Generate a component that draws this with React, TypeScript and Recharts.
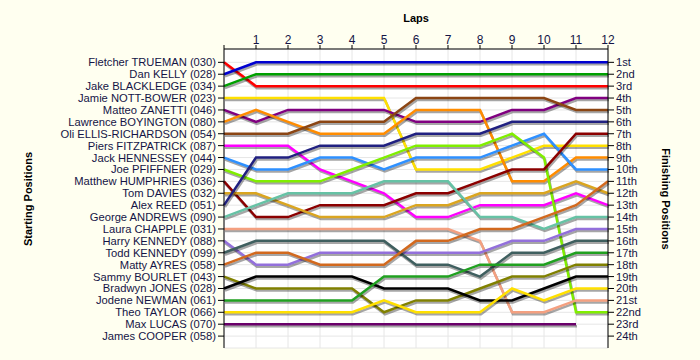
import { LineChart, Line, XAxis, YAxis, CartesianGrid } from 'recharts';

const LAPS = [0, 1, 2, 3, 4, 5, 6, 7, 8, 9, 10, 11, 12];

const DRIVERS = [
  'Fletcher TRUEMAN (030)',
  'Dan KELLY (028)',
  'Jake BLACKLEDGE (034)',
  'Jamie NOTT-BOWER (023)',
  'Matteo ZANETTI (046)',
  'Lawrence BOYINGTON (080)',
  'Oli ELLIS-RICHARDSON (054)',
  'Piers FITZPATRICK (087)',
  'Jack HENNESSEY (044)',
  'Joe PFIFFNER (029)',
  'Matthew HUMPHRIES (036)',
  'Tom DAVIES (032)',
  'Alex REED (051)',
  'George ANDREWS (090)',
  'Laura CHAPPLE (031)',
  'Harry KENNEDY (088)',
  'Todd KENNEDY (099)',
  'Matty AYRES (058)',
  'Sammy BOURLET (043)',
  'Bradwyn JONES (028)',
  'Jodene NEWMAN (061)',
  'Theo TAYLOR (066)',
  'Max LUCAS (070)',
  'James COOPER (058)',
];

const FINISH_LABELS = [
  '1st', '2nd', '3rd', '4th', '5th', '6th', '7th', '8th', '9th', '10th', '11th', '12th',
  '13th', '14th', '15th', '16th', '17th', '18th', '19th', '20th', '21st', '22nd', '23rd', '24th',
];

const COLORS = [
  '#ff0000', '#0000d0', '#00a000', '#ffe000', '#800080', '#ff8c00',
  '#8b4513', '#ff00ff', '#2e90ff', '#80ee00', '#8b0000', '#daa520',
  '#202080', '#66c2a5', '#f4a080', '#9370db', '#3f5f5f', '#d2691e',
  '#808000', '#000000', '#20a020', '#ffe000', '#6a006a', '#000000',
];

// position of each driver at the end of each lap (lap 0 = grid)
const POSITIONS: (number | null)[][] = [
  [1, 3, 3, 3, 3, 3, 3, 3, 3, 3, 3, 3, 3],
  [2, 1, 1, 1, 1, 1, 1, 1, 1, 1, 1, 1, 1],
  [3, 2, 2, 2, 2, 2, 2, 2, 2, 2, 2, 2, 2],
  [4, 4, 4, 4, 4, 4, 10, 10, 10, 9, 8, 8, 8],
  [5, 6, 5, 5, 5, 5, 6, 6, 6, 5, 5, 4, 4],
  [6, 5, 6, 7, 7, 7, 5, 5, 5, 11, 11, 9, 9],
  [7, 7, 7, 6, 6, 6, 4, 4, 4, 4, 4, 5, 5],
  [8, 8, 8, 10, 11, 12, 14, 14, 13, 13, 13, 12, 13],
  [9, 10, 10, 9, 9, 10, 9, 9, 9, 8, 7, 10, 10],
  [10, 11, 11, 11, 10, 9, 8, 8, 8, 7, 9, 22, 22],
  [11, 14, 14, 13, 13, 13, 12, 12, 11, 10, 10, 7, 7],
  [12, 12, 13, 14, 14, 14, 13, 13, 12, 12, 12, 11, 12],
  [13, 9, 9, 8, 8, 8, 7, 7, 7, 6, 6, 6, 6],
  [14, 13, 12, 12, 12, 11, 11, 11, 14, 14, 15, 14, 14],
  [15, 15, 15, 15, 15, 15, 15, 15, 16, 22, 22, 21, 21],
  [16, 18, 18, 17, 17, 17, 17, 17, 17, 16, 16, 15, 15],
  [17, 16, 16, 16, 16, 16, 18, 18, 19, 17, 17, 16, 16],
  [18, 17, 17, 18, 18, 18, 16, 16, 15, 15, 14, 13, 11],
  [19, 20, 20, 20, 20, 22, 21, 21, 20, 19, 19, 18, 18],
  [20, 19, 19, 19, 19, 20, 20, 20, 21, 21, 20, 19, 19],
  [21, 21, 21, 21, 21, 19, 19, 19, 18, 18, 18, 17, 17],
  [22, 22, 22, 22, 22, 21, 22, 22, 22, 20, 21, 20, 20],
  [23, 23, 23, 23, 23, 23, 23, 23, 23, 23, 23, 23, null],
  [],
];

const POS_TICKS = DRIVERS.map((_, i) => i + 1);

const data = LAPS.map((lap, i) => {
  const row: Record<string, number | null> = { lap };
  POSITIONS.forEach((p, d) => {
    row['d' + d] = p[i] ?? null;
  });
  return row;
});

const FONT = '"Liberation Sans", Arial, sans-serif';
const TEXT = '#141446';

export default function App() {
  return (
    <div style={{ position: 'absolute', left: 0, top: 0, width: 700, height: 360, background: '#fffff0' }}>
      <style>{`.lap-line .recharts-line-curve { filter: drop-shadow(1px 2px 0 rgba(0,0,0,0.35)); }`}</style>
      <LineChart width={700} height={360} data={data} margin={{ top: 0, right: 0, bottom: 12, left: 0 }}>
        <CartesianGrid yAxisId="left" fill="#ffffff" stroke="#e6e6e6" />
        <XAxis
          dataKey="lap"
          type="number"
          orientation="top"
          domain={[0, 12]}
          ticks={LAPS}
          tickFormatter={(v) => (v === 0 ? '' : String(v))}
          height={49}
          tickSize={4}
          tickMargin={1}
          stroke="#000"
          tick={{ fill: TEXT, fontSize: 12, fontFamily: FONT }}
          label={() => (
            <text x={416} y={22} textAnchor="middle" fontFamily={FONT} fontSize={11} fontWeight="bold" fill="#000">
              Laps
            </text>
          )}
        />
        <YAxis
          yAxisId="left"
          type="number"
          reversed
          domain={[-0.12, 25]}
          allowDataOverflow
          ticks={POS_TICKS}
          interval={0}
          tickFormatter={(v) => DRIVERS[v - 1] ?? ''}
          width={224}
          tickSize={6}
          tickMargin={2}
          stroke="#000"
          tick={{ fill: TEXT, fontSize: 11.2, fontFamily: FONT }}
          label={() => (
            <text
              x={28}
              y={199}
              transform="rotate(-90 28 199)"
              textAnchor="middle"
              dominantBaseline="central"
              fontFamily={FONT}
              fontSize={11}
              fontWeight="bold"
              fill="#000"
            >
              Starting Positions
            </text>
          )}
        />
        <YAxis
          yAxisId="right"
          orientation="right"
          type="number"
          reversed
          domain={[-0.12, 25]}
          allowDataOverflow
          ticks={POS_TICKS}
          interval={0}
          tickFormatter={(v) => FINISH_LABELS[v - 1] ?? ''}
          width={92}
          tickSize={6}
          tickMargin={2}
          stroke="#000"
          tick={{ fill: TEXT, fontSize: 11.2, fontFamily: FONT }}
          label={() => (
            <text
              x={666}
              y={199}
              transform="rotate(90 666 199)"
              textAnchor="middle"
              dominantBaseline="central"
              fontFamily={FONT}
              fontSize={11}
              fontWeight="bold"
              fill="#000"
            >
              Finishing Positions
            </text>
          )}
        />
        {POSITIONS.map((p, d) =>
          p.length ? (
            <Line
              key={d}
              className="lap-line"
              yAxisId="left"
              type="linear"
              dataKey={'d' + d}
              stroke={COLORS[d]}
              strokeWidth={2.5}
              dot={false}
              activeDot={false}
              connectNulls={false}
              isAnimationActive={false}
            />
          ) : null
        )}
      </LineChart>
    </div>
  );
}
